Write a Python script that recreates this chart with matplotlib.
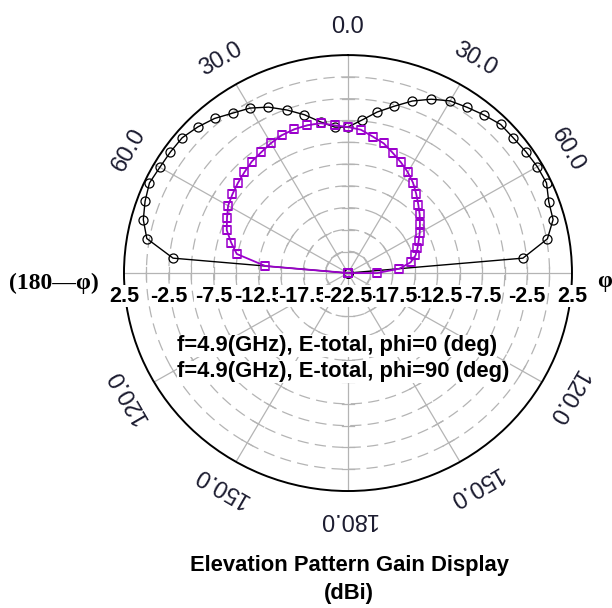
import numpy as np
import matplotlib
matplotlib.use('Agg')
import matplotlib.pyplot as plt
import matplotlib.transforms as mtransforms

plt.rcParams['font.family'] = ['Liberation Sans', 'DejaVu Sans']

# elevation angle (deg, clockwise from top) and gain in dBi
theta_deg = list(range(-95, 100, 5))
gain_phi0 = [-30, -30, -2.9, 0.3, 1.15, 1.6, 1.95, 1.75, 1.7, 1.65, 1.2, 0.65, -0.1,
             -0.65, -1.5, -2.6, -3.7, -4.9, -5.7, -5.75, -4.9, -3.75, -2.7, -1.5,
             -0.5, 0.3, 0.7, 1.15, 1.6, 1.6, 1.75, 1.9, 1.95, 1.35, 1.2, 0.1, -2.9,
             -30, -30]
gain_phi90 = [-30, -30, -13.25, -9.9, -9.0, -8.1, -7.6, -7.05, -6.75, -6.45, -6.15,
              -5.8, -5.6, -5.3, -5.05, -4.95, -4.95, -5.05, -5.5, -5.75, -6.0, -6.6,
              -7.1, -7.85, -8.5, -9.15, -9.85, -10.65, -11.4, -12.05, -12.7, -13.25,
              -13.8, -14.25, -14.7, -15.4, -16.75, -19.25, -30]
series_labels = ['f=4.9(GHz), E-total, phi=0 (deg)',
                 'f=4.9(GHz), E-total, phi=90 (deg)']
r_min, r_max, r_step = -22.5, 2.5, 2.5
r_labels = [2.5, -2.5, -7.5, -12.5, -17.5]
angle_labels = [0, 30, 60, 120, 150, 180]

fig = plt.figure(figsize=(6.12, 6.08), dpi=100)
ax = fig.add_axes([0.2026, 0.1924, 0.732, 0.717], projection='polar')
ax.set_theta_zero_location('N')
ax.set_theta_direction(-1)
ax.set_ylim(r_min, r_max)
ax.set_aspect('auto')
ax.grid(False)
ax.set_xticks([])
ax.set_yticks([])
ax.spines['polar'].set_color('black')
ax.spines['polar'].set_linewidth(1.4)

# grid: dashed rings, spokes every 30 deg, small crosses
grid_c = '#b4b4b4'
full = np.linspace(0, 2 * np.pi, 721)
rings = np.arange(r_min + r_step, r_max, r_step)
for r in rings:
    ax.plot(full, np.full_like(full, r), color=grid_c, lw=0.9,
            ls=(0, (9, 5)), zorder=1)
px_per_db = 221 / (r_max - r_min)
for a in range(0, 360, 30):
    t = np.deg2rad(a)
    ax.plot([t, t], [r_min, r_max], color=grid_c, lw=0.9, zorder=1)
    for r in rings:
        d = 6 / ((r - r_min) * px_per_db)
        ax.plot([t - d, t + d], [r, r], color=grid_c, lw=0.9, zorder=1)

th = np.deg2rad(theta_deg)
ax.plot(th, np.clip(gain_phi0, r_min, None), color='black', lw=1.0,
        marker='o', ms=6.5, mfc='none', mec='black', mew=0.9, zorder=3)
ax.plot(th, np.clip(gain_phi90, r_min, None), color='#9b00cc', lw=1.3,
        marker='s', ms=6.2, mfc='none', mec='#9b00cc', mew=1.1, zorder=4)

# radial labels below the horizontal axis
below = mtransforms.offset_copy(ax.transData, fig=fig, x=0, y=-23, units='dots')
z = 5
for side in (-90, 90):
    for v in r_labels:
        ax.text(np.deg2rad(side), v, f'{v:g}', transform=below, ha='center',
                va='center', fontsize=15.5, fontweight='bold', zorder=z,
                bbox=dict(facecolor='white', edgecolor='none', pad=0.3))
        z += 1
ax.text(0, r_min, f'{r_min:g}', transform=below, ha='center', va='center',
        fontsize=15.5, fontweight='bold', zorder=z,
        bbox=dict(facecolor='white', edgecolor='none', pad=0.3))

# angle labels
r_lab = r_min + (r_max - r_min) * 1.13
for a in angle_labels:
    for s in ((1, -1) if a not in (0, 180) else (1,)):
        t = s * a
        ax.text(np.deg2rad(t), r_lab, f'{a:.1f}', rotation=-t,
                rotation_mode='anchor', ha='center', va='center',
                fontsize=17, color='#1c1c30', clip_on=False)

fig.text(0.088, 1 - 283 / 608, '(180\u2014\u03c6)', family='Liberation Serif',
         fontweight='bold', fontsize=17, ha='center', va='center')
fig.text(0.988, 1 - 281 / 608, '\u03c6', family='Liberation Serif',
         fontweight='bold', fontsize=17, ha='center', va='center')

for i, lab in enumerate(series_labels):
    fig.text(177 / 612, 1 - (346 + 26 * i) / 608, lab, ha='left', va='center',
             fontsize=15.8, fontweight='bold', zorder=10,
             bbox=dict(facecolor='white', edgecolor='none', pad=0.2))

fig.text(349 / 612, 1 - 566 / 608, 'Elevation Pattern Gain Display',
         ha='center', va='center', fontsize=15.8, fontweight='bold')
fig.text(349 / 612, 1 - 594 / 608, '(dBi)', ha='center', va='center',
         fontsize=15.8, fontweight='bold')

fig.savefig('out.png', dpi=100)
